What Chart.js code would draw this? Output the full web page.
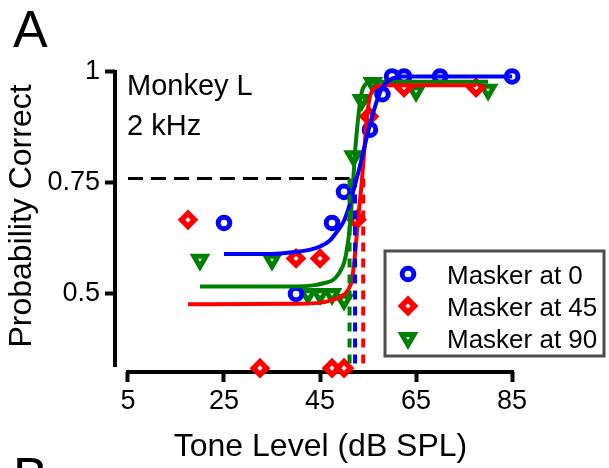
<!DOCTYPE html>
<html>
<head>
<meta charset="utf-8">
<script src="https://cdn.jsdelivr.net/npm/chart.js@4/dist/chart.umd.min.js"></script>
<style>
  html, body { margin: 0; padding: 0; background: #ffffff; }
  #wrap { width: 609px; height: 468px; }
</style>
</head>
<body>
<div id="wrap"><canvas id="c" width="609" height="468"></canvas></div>
<script>
const FONT = '"Liberation Sans", Arial, Helvetica, sans-serif';

// Series names and colours (masker azimuth)
const seriesNames = ['Masker at 0', 'Masker at 45', 'Masker at 90'];
const seriesColors = ['#0000ff', '#ff0000', '#008000'];

// Measured proportion correct per tone level (dB SPL)
const toneMasker0 = [25, 40, 47.5, 50, 55.4, 58, 60, 62.5, 70, 85];
const pcMasker0   = [0.66, 0.50, 0.66, 0.73, 0.87, 0.95, 0.99, 0.99, 0.99, 0.99];

const toneMasker45 = [17.5, 32.5, 40, 45, 47.5, 50, 52.6, 55.2, 62.5, 77.5];
const pcMasker45   = [0.667, 0.333, 0.58, 0.58, 0.333, 0.333, 0.667, 0.90, 0.965, 0.965];

const toneMasker90 = [20, 35, 42.5, 45, 47.5, 50, 52, 53.7, 56, 65, 80];
const pcMasker90   = [0.577, 0.577, 0.50, 0.50, 0.50, 0.487, 0.81, 0.937, 0.975, 0.957, 0.96];

// Fitted psychometric functions, sampled along each curve
const fitTone0 = [25, 35, 40, 43, 45, 47, 48.5, 50, 51, 52, 53, 54, 55, 56, 57, 58, 59, 60, 62, 65, 85];
const fitPc0   = [0.59, 0.59, 0.595, 0.60, 0.607, 0.62, 0.64, 0.665, 0.695, 0.735, 0.775, 0.82, 0.865, 0.905, 0.94, 0.965, 0.978, 0.985, 0.99, 0.99, 0.99];

const fitTone45 = [17.5, 40, 45, 47.5, 49, 50.2, 51, 51.6, 52.3, 52.9, 53.6, 54.2, 54.7, 55.3, 56, 57, 59, 77.5];
const fitPc45   = [0.477, 0.478, 0.48, 0.486, 0.492, 0.50, 0.512, 0.53, 0.59, 0.667, 0.74, 0.82, 0.89, 0.94, 0.96, 0.968, 0.97, 0.97];

const fitTone90 = [20, 40, 44, 46, 47.5, 48.5, 49.3, 50, 50.6, 51.2, 51.7, 52.3, 52.7, 53.2, 53.7, 54.3, 55, 57, 80];
const fitPc90   = [0.517, 0.517, 0.52, 0.525, 0.53, 0.54, 0.553, 0.57, 0.60, 0.65, 0.72, 0.82, 0.87, 0.92, 0.955, 0.97, 0.976, 0.978, 0.978];

// Thresholds at the 0.76 criterion (order: 0, 45, 90)
const thresholdTone = [52.3, 54.0, 51.15];
const criterionPc = 0.76;
const thresholdFloor = 0.34;
const criterionStartTone = 5;

// Axis ticks
const xTickValues = [5, 25, 45, 65, 85];
const yTickValues = [0.5, 0.75, 1];
const yTickLabels = ['0.5', '0.75', '1'];
const xAxisSpan = [5, 85];
const yAxisSpan = [0.34, 1];

const zip = (xs, ys) => xs.map((x, i) => ({ x: x, y: ys[i] }));

const markerStyles = [
  { pointStyle: 'circle',   radius: 5.8, borderWidth: 5,   rotation: 0 },
  { pointStyle: 'rectRot',  radius: 6.5, borderWidth: 5.5, rotation: 0 },
  { pointStyle: 'triangle', radius: 7,   borderWidth: 5,   rotation: 180 }
];

const pointSets = [zip(toneMasker0, pcMasker0), zip(toneMasker45, pcMasker45), zip(toneMasker90, pcMasker90)];
const curveSets = [zip(fitTone0, fitPc0), zip(fitTone45, fitPc45), zip(fitTone90, fitPc90)];

const datasets = [];
// threshold markers, drawn on top
[2, 0, 1].forEach(i => {
  datasets.push({
    label: 'thr' + i,
    data: [{ x: thresholdTone[i], y: criterionPc }, { x: thresholdTone[i], y: thresholdFloor }],
    showLine: true, pointRadius: 0, borderWidth: 4,
    borderDash: [9, 7], borderColor: seriesColors[i], order: 0, clip: false
  });
});
datasets.push({
  label: 'criterion',
  data: [{ x: criterionStartTone, y: criterionPc }, { x: thresholdTone[2], y: criterionPc }],
  showLine: true, pointRadius: 0, borderWidth: 3,
  borderDash: [15, 8], borderColor: '#000000', order: 0
});
// fitted curves over the measured points
[0, 1, 2].forEach(i => {
  datasets.push({
    label: 'fit' + i,
    data: curveSets[i],
    showLine: true, pointRadius: 0, borderWidth: 4,
    borderColor: seriesColors[i], cubicInterpolationMode: 'monotone',
    order: 1, clip: false
  });
});
// measured points
[0, 1, 2].forEach(i => {
  const m = markerStyles[i];
  datasets.push({
    label: seriesNames[i],
    data: pointSets[i],
    showLine: false,
    pointStyle: m.pointStyle, pointRadius: m.radius, pointBorderWidth: m.borderWidth,
    pointRotation: m.rotation,
    pointBackgroundColor: '#ffffff', pointBorderColor: seriesColors[i],
    order: 2, clip: false
  });
});

// Offset axis lines spanning only the labelled ranges
const axisLines = {
  id: 'axisLines',
  beforeDatasetsDraw(chart) {
    const { ctx, chartArea, scales } = chart;
    ctx.save();
    ctx.strokeStyle = '#000000';
    ctx.lineWidth = 4;
    ctx.lineCap = 'square';
    ctx.beginPath();
    ctx.moveTo(chartArea.left, scales.y.getPixelForValue(yAxisSpan[1]));
    ctx.lineTo(chartArea.left, scales.y.getPixelForValue(yAxisSpan[0]));
    ctx.moveTo(scales.x.getPixelForValue(xAxisSpan[0]), chartArea.bottom);
    ctx.lineTo(scales.x.getPixelForValue(xAxisSpan[1]), chartArea.bottom);
    ctx.stroke();
    ctx.restore();
  }
};

// Panel letters, condition text and legend box
const decorations = {
  id: 'decorations',
  afterDraw(chart) {
    const { ctx } = chart;
    ctx.save();
    ctx.fillStyle = '#000000';
    ctx.textBaseline = 'alphabetic';
    ctx.textAlign = 'left';
    ctx.font = '52px ' + FONT;
    ctx.fillText('A', 13, 47);
    ctx.fillText('B', 13, 494);
    ctx.font = '29px ' + FONT;
    ctx.fillText('Monkey L', 127, 95);
    ctx.fillText('2 kHz', 127, 135);

    // legend
    ctx.strokeStyle = '#4d4d4d';
    ctx.lineWidth = 3;
    ctx.strokeRect(385, 251, 219, 105);
    const rows = [274, 306, 338];
    ctx.font = '26px ' + FONT;
    rows.forEach((ry, i) => {
      const m = markerStyles[i];
      ctx.fillStyle = '#ffffff';
      ctx.strokeStyle = seriesColors[i];
      ctx.lineWidth = m.borderWidth;
      Chart.helpers.drawPoint(ctx, {
        pointStyle: m.pointStyle, radius: m.radius, rotation: m.rotation, borderWidth: m.borderWidth
      }, 408, ry);
      ctx.fillStyle = '#000000';
      ctx.fillText(seriesNames[i], 447, ry + 10);
    });
    ctx.restore();
  }
};

new Chart(document.getElementById('c'), {
  type: 'scatter',
  data: { datasets: datasets },
  options: {
    responsive: false,
    animation: false,
    events: [],
    layout: { padding: { left: 0, top: 60, right: 83, bottom: 0 } },
    plugins: { legend: { display: false }, tooltip: { enabled: false } },
    scales: {
      x: {
        type: 'linear', min: 2.3, max: 87.9,
        afterFit: s => { s.height = 96; },
        afterBuildTicks: s => { s.ticks = xTickValues.map(v => ({ value: v })); },
        border: { display: false },
        grid: { drawOnChartArea: false, drawTicks: true, tickLength: 10, tickWidth: 4, tickColor: '#000000' },
        ticks: { color: '#000000', padding: 3, maxRotation: 0, font: { family: FONT, size: 27 },
                 callback: v => String(v) },
        title: { display: true, text: 'Tone Level (dB SPL)', color: '#000000',
                 font: { family: FONT, size: 32 }, padding: { top: 0, bottom: 2 } }
      },
      y: {
        type: 'linear', min: 0.3243, max: 1.027,
        afterFit: s => { s.width = 115; },
        afterBuildTicks: s => { s.ticks = yTickValues.map(v => ({ value: v })); },
        border: { display: false },
        grid: { drawOnChartArea: false, drawTicks: true, tickLength: 10, tickWidth: 4, tickColor: '#000000' },
        ticks: { color: '#000000', padding: 5, font: { family: FONT, size: 27 },
                 callback: v => yTickLabels[yTickValues.indexOf(v)] },
        title: { display: true, text: 'Probability Correct', color: '#000000',
                 font: { family: FONT, size: 32 }, padding: { top: 3, bottom: 0 } }
      }
    }
  },
  plugins: [axisLines, decorations]
});
</script>
</body>
</html>
